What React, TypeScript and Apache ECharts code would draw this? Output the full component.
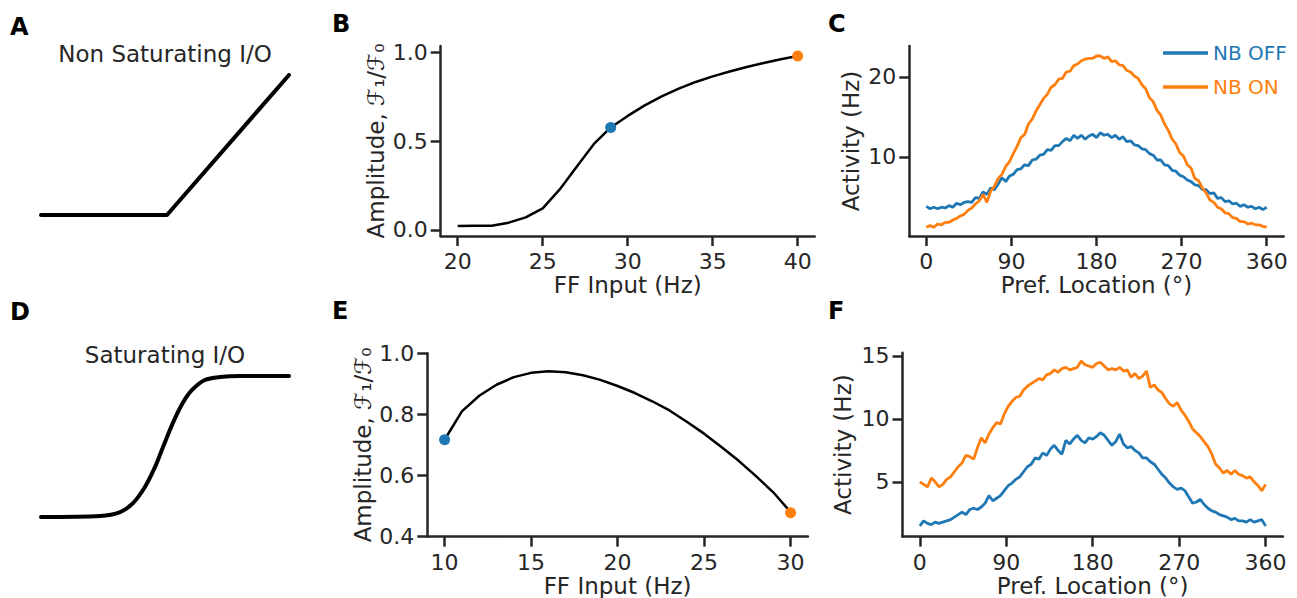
import React, { useEffect, useRef } from "react";
import * as echarts from "echarts";

const BLUE = "#1f77b4";
const ORANGE = "#ff7f0e";
const INK = "#262626";
const FONT = "DejaVu Sans";

// Panel A: non-saturating (threshold-linear) I/O schematic
const ioLinearX = [0, 5.08, 10];
const ioLinearY = [0, 0, 1];

// Panel D: saturating I/O schematic
const ioSatX = [0, 2.38, 3.19, 3.71, 4.19, 4.6, 4.92, 5.28, 5.69, 6.09, 6.61, 7.22, 8.02, 10];
const ioSatY = [0, 0.007, 0.035, 0.099, 0.213, 0.355, 0.496, 0.652, 0.801, 0.901, 0.972, 0.993, 1.0, 1.0];

// Panel B: amplitude vs FF input (non saturating)
const ffInputB = [20, 21, 22, 23, 24, 25, 26, 27, 28, 29, 30, 31, 32, 33, 34, 35, 36, 37, 38, 39, 40];
const amplitudeB = [0.022, 0.023, 0.024, 0.041, 0.071, 0.121, 0.228, 0.355, 0.482, 0.576, 0.641, 0.7, 0.751, 0.794, 0.832, 0.863, 0.891, 0.916, 0.938, 0.959, 0.978];
const markOffB = [29, 0.576];
const markOnB = [40, 0.978];

// Panel E: amplitude vs FF input (saturating)
const ffInputE = [10, 11, 12, 13, 14, 15, 16, 17, 18, 19, 20, 21, 22, 23, 24, 25, 26, 27, 28, 29, 30];
const amplitudeE = [0.717, 0.81, 0.861, 0.897, 0.922, 0.936, 0.941, 0.938, 0.928, 0.913, 0.893, 0.87, 0.843, 0.813, 0.776, 0.737, 0.693, 0.648, 0.598, 0.545, 0.48];
const markOffE = [10, 0.717];
const markOnE = [30, 0.478];

// Preferred location (deg) for panels C and F
const prefLocation = [
  0, 4, 8, 12, 16, 20, 24, 28, 32, 36, 40, 44, 48, 52, 56, 60, 64, 68, 72, 76, 80, 84, 88, 92, 96, 100,
  104, 108, 112, 116, 120, 124, 128, 132, 136, 140, 144, 148, 152, 156, 160, 164, 168, 172, 176, 180,
  184, 188, 192, 196, 200, 204, 208, 212, 216, 220, 224, 228, 232, 236, 240, 244, 248, 252, 256, 260,
  264, 268, 272, 276, 280, 284, 288, 292, 296, 300, 304, 308, 312, 316, 320, 324, 328, 332, 336, 340,
  344, 348, 352, 356, 360,
];

// Panel C activity (Hz)
const activityOffC = [
  3.8, 3.5, 3.7, 3.5, 3.7, 3.6, 3.9, 3.7, 4.2, 4.0, 4.3, 4.4, 4.3, 4.9, 4.8, 5.6, 5.3, 6.1, 5.9, 6.6,
  7.4, 6.9, 7.6, 7.8, 8.4, 8.5, 9.0, 8.9, 9.6, 9.7, 10.2, 10.3, 10.9, 10.8, 11.4, 11.4, 11.9, 12.3, 12.0,
  12.7, 12.3, 12.7, 12.2, 12.6, 12.8, 12.4, 13.0, 12.7, 12.8, 12.4, 12.7, 12.2, 12.5, 11.9, 12.0, 11.5,
  11.4, 11.0, 10.9, 10.4, 10.2, 9.6, 9.6, 9.0, 8.9, 8.3, 8.2, 7.7, 7.5, 7.1, 6.9, 6.5, 6.4, 5.9, 5.9,
  5.4, 5.5, 4.8, 4.9, 4.4, 4.5, 4.1, 4.2, 3.8, 4.0, 3.7, 3.8, 3.5, 3.7, 3.4, 3.7,
];
const activityOnC = [
  1.2, 1.4, 1.2, 1.6, 1.5, 1.8, 1.8, 2.1, 2.3, 2.6, 2.8, 3.3, 3.6, 4.1, 4.5, 5.3, 4.3, 5.7, 6.3, 7.3,
  7.8, 8.8, 9.4, 10.4, 11.3, 12.4, 12.8, 14.1, 14.7, 15.7, 16.5, 17.3, 17.8, 18.7, 19.0, 19.7, 19.8,
  20.6, 20.7, 21.4, 21.6, 22.0, 22.2, 22.3, 22.3, 22.6, 22.6, 22.3, 22.5, 21.9, 22.0, 21.5, 21.4, 20.8,
  20.6, 20.1, 19.8, 19.0, 18.5, 17.4, 16.9, 15.8, 15.2, 14.1, 13.3, 12.2, 11.6, 10.5, 10.1, 9.0, 8.6,
  7.3, 7.0, 6.1, 5.5, 4.6, 4.3, 3.7, 3.5, 3.0, 2.9, 2.4, 2.3, 1.9, 1.9, 1.6, 1.7, 1.5, 1.5, 1.3, 1.2,
];

// Panel F activity (Hz)
const activityOffF = [
  1.5, 1.9, 1.7, 1.6, 1.8, 1.7, 1.8, 1.9, 2.0, 2.2, 2.4, 2.6, 2.4, 2.8, 2.9, 2.8, 3.0, 3.3, 3.9, 3.5,
  3.7, 3.9, 4.3, 4.7, 4.9, 5.2, 5.4, 5.8, 6.2, 6.4, 6.9, 6.8, 7.3, 7.1, 7.6, 7.9, 7.5, 7.2, 8.3, 8.0,
  8.4, 8.7, 8.3, 8.1, 8.5, 8.4, 8.6, 8.9, 8.7, 8.3, 7.9, 8.2, 8.8, 8.0, 7.7, 7.8, 7.5, 7.3, 6.9, 6.9,
  6.6, 6.4, 6.0, 5.6, 5.3, 4.9, 4.6, 4.4, 4.5, 4.3, 3.8, 3.3, 3.4, 3.6, 3.2, 2.9, 2.7, 2.6, 2.4, 2.3,
  2.2, 2.0, 2.1, 1.9, 1.9, 1.8, 2.0, 1.8, 1.9, 2.0, 1.5,
];
const activityOnF = [
  5.0, 4.8, 4.6, 5.3, 5.0, 4.6, 4.8, 5.2, 5.4, 5.8, 6.2, 6.5, 7.1, 7.0, 6.8, 7.7, 8.5, 8.1, 8.8, 9.3,
  9.7, 9.6, 10.4, 11.0, 11.4, 11.7, 11.8, 12.3, 12.6, 12.8, 13.0, 13.2, 13.1, 13.5, 13.6, 13.9, 13.7,
  14.0, 14.1, 13.9, 14.0, 14.1, 14.6, 14.3, 14.2, 14.1, 14.4, 14.5, 14.2, 13.9, 14.0, 13.9, 14.1, 13.8,
  13.9, 13.3, 13.6, 13.2, 13.4, 13.8, 12.5, 12.7, 12.3, 12.1, 11.6, 11.2, 11.0, 11.3, 10.7, 10.3, 9.8,
  9.2, 8.9, 8.6, 8.2, 7.8, 7.2, 6.4, 6.1, 5.7, 5.9, 5.6, 5.9, 5.6, 5.5, 5.3, 5.4, 5.0, 4.7, 4.3, 4.8,
];

// Tick labels
const ticksAmpB = [0, 0.5, 1.0];
const ticksFFB = [20, 25, 30, 35, 40];
const ticksAmpE = [0.4, 0.6, 0.8, 1.0];
const ticksFFE = [10, 15, 20, 25, 30];
const ticksLoc = [0, 90, 180, 270, 360];
const ticksActC = [10, 20];
const ticksActF = [5, 10, 15];

const pair = (xs: number[], ys: number[]) => xs.map((x, i) => [x, ys[i]]);

function visibleAxis(
  gridIndex: number,
  min: number,
  max: number,
  ticks: number[],
  name: string,
  isY: boolean,
  nameGap: number,
  decimals: number
) {
  return {
    type: "value",
    gridIndex,
    min,
    max,
    name,
    nameLocation: "middle",
    nameGap,
    nameRotate: isY ? 90 : 0,
    nameTextStyle: { color: INK, fontSize: 23, fontFamily: FONT },
    axisLine: { show: true, onZero: false, lineStyle: { color: INK, width: 2.5 } },
    axisTick: { show: true, length: 10, customValues: ticks, lineStyle: { color: INK, width: 2.5 } },
    axisLabel: {
      show: true,
      customValues: ticks,
      color: INK,
      fontSize: 22,
      fontFamily: FONT,
      margin: isY ? 13 : 14.5,
      formatter: (v: number) => v.toFixed(decimals),
    },
    splitLine: { show: false },
  };
}

function hiddenAxis(gridIndex: number, min: number, max: number) {
  return { type: "value", gridIndex, min, max, show: false, splitLine: { show: false } };
}

export default function App() {
  const ref = useRef<HTMLDivElement>(null);

  useEffect(() => {
    document.body.style.margin = "0";
    if (!ref.current) return;
    const chart = echarts.init(ref.current, undefined, { renderer: "svg" });

    const lineBase = { type: "line", symbol: "none", silent: true };
    const dot = (name: string, color: string, xi: number, point: number[]) => ({
      type: "scatter",
      name,
      xAxisIndex: xi,
      yAxisIndex: xi,
      symbolSize: 11,
      itemStyle: { color, opacity: 1 },
      data: [point],
      z: 5,
      silent: true,
    });

    const option = {
      animation: false,
      backgroundColor: "#ffffff",
      textStyle: { fontFamily: FONT },
      grid: [
        { left: 41, top: 75, width: 248, height: 140 }, // A
        { left: 440.7, top: 46, width: 374, height: 190 }, // B
        { left: 909.3, top: 46, width: 374.4, height: 190 }, // C
        { left: 41, top: 376, width: 248, height: 141 }, // D
        { left: 427.3, top: 353.3, width: 380.6, height: 184 }, // E
        { left: 902.5, top: 352.7, width: 380.4, height: 184.6 }, // F
      ],
      xAxis: [
        hiddenAxis(0, 0, 10),
        visibleAxis(1, 19, 41, ticksFFB, "FF Input (Hz)", false, 37.5, 0),
        visibleAxis(2, -18, 378, ticksLoc, "Pref. Location (°)", false, 37.5, 0),
        hiddenAxis(3, 0, 10),
        visibleAxis(4, 9, 31, ticksFFE, "FF Input (Hz)", false, 37, 0),
        visibleAxis(5, -18, 378, ticksLoc, "Pref. Location (°)", false, 37, 0),
      ],
      yAxis: [
        hiddenAxis(0, 0, 1),
        visibleAxis(1, -0.034, 1.034, ticksAmpB, "Amplitude, ℱ₁/ℱ₀", true, 53, 1),
        visibleAxis(2, 0.1, 23.85, ticksActC, "Activity (Hz)", true, 47, 0),
        hiddenAxis(3, 0, 1),
        visibleAxis(4, 0.4, 1.0, ticksAmpE, "Amplitude, ℱ₁/ℱ₀", true, 53, 1),
        visibleAxis(5, 0.65, 15.26, ticksActF, "Activity (Hz)", true, 48, 0),
      ],
      legend: {
        left: 1163,
        top: 43,
        padding: 0,
        orient: "vertical",
        icon: "rect",
        itemWidth: 45,
        itemHeight: 3.5,
        itemGap: 14,
        textStyle: { fontFamily: FONT, fontSize: 20 },
        data: [
          { name: "NB OFF", textStyle: { color: BLUE, fontSize: 20, fontFamily: FONT } },
          { name: "NB ON", textStyle: { color: ORANGE, fontSize: 20, fontFamily: FONT } },
        ],
      },
      series: [
        {
          ...lineBase,
          name: "Non Saturating I/O",
          xAxisIndex: 0,
          yAxisIndex: 0,
          data: pair(ioLinearX, ioLinearY),
          lineStyle: { color: "#000", width: 4, cap: "round", join: "round" },
        },
        {
          ...lineBase,
          name: "Saturating I/O",
          xAxisIndex: 3,
          yAxisIndex: 3,
          smooth: 0.3,
          data: pair(ioSatX, ioSatY),
          lineStyle: { color: "#000", width: 4, cap: "round", join: "round" },
        },
        {
          ...lineBase,
          name: "Amplitude B",
          xAxisIndex: 1,
          yAxisIndex: 1,
          data: pair(ffInputB, amplitudeB),
          lineStyle: { color: "#000", width: 2.5 },
        },
        dot("B off", BLUE, 1, markOffB),
        dot("B on", ORANGE, 1, markOnB),
        {
          ...lineBase,
          name: "NB OFF",
          color: BLUE,
          xAxisIndex: 2,
          yAxisIndex: 2,
          data: pair(prefLocation, activityOffC),
          lineStyle: { color: BLUE, width: 2.8 },
        },
        {
          ...lineBase,
          name: "NB ON",
          color: ORANGE,
          xAxisIndex: 2,
          yAxisIndex: 2,
          data: pair(prefLocation, activityOnC),
          lineStyle: { color: ORANGE, width: 2.8 },
        },
        {
          ...lineBase,
          name: "Amplitude E",
          xAxisIndex: 4,
          yAxisIndex: 4,
          data: pair(ffInputE, amplitudeE),
          lineStyle: { color: "#000", width: 2.5 },
        },
        dot("E off", BLUE, 4, markOffE),
        dot("E on", ORANGE, 4, markOnE),
        {
          ...lineBase,
          name: "NB OFF",
          color: BLUE,
          xAxisIndex: 5,
          yAxisIndex: 5,
          data: pair(prefLocation, activityOffF),
          lineStyle: { color: BLUE, width: 2.8 },
        },
        {
          ...lineBase,
          name: "NB ON",
          color: ORANGE,
          xAxisIndex: 5,
          yAxisIndex: 5,
          data: pair(prefLocation, activityOnF),
          lineStyle: { color: ORANGE, width: 2.8 },
        },
      ],
      graphic: [
        { type: "text", x: 10, y: 26.5, style: { text: "A", fontSize: 24, fontWeight: "bold", fontFamily: FONT, fill: "#000", align: "left", verticalAlign: "middle" } },
        { type: "text", x: 332, y: 24, style: { text: "B", fontSize: 24, fontWeight: "bold", fontFamily: FONT, fill: "#000", align: "left", verticalAlign: "middle" } },
        { type: "text", x: 828, y: 23.5, style: { text: "C", fontSize: 24, fontWeight: "bold", fontFamily: FONT, fill: "#000", align: "left", verticalAlign: "middle" } },
        { type: "text", x: 10, y: 311.5, style: { text: "D", fontSize: 24, fontWeight: "bold", fontFamily: FONT, fill: "#000", align: "left", verticalAlign: "middle" } },
        { type: "text", x: 332, y: 311, style: { text: "E", fontSize: 24, fontWeight: "bold", fontFamily: FONT, fill: "#000", align: "left", verticalAlign: "middle" } },
        { type: "text", x: 828, y: 311, style: { text: "F", fontSize: 24, fontWeight: "bold", fontFamily: FONT, fill: "#000", align: "left", verticalAlign: "middle" } },
        { type: "text", x: 165, y: 53.5, style: { text: "Non Saturating I/O", fontSize: 23, fontFamily: FONT, fill: INK, align: "center", verticalAlign: "middle" } },
        { type: "text", x: 165, y: 355, style: { text: "Saturating I/O", fontSize: 23, fontFamily: FONT, fill: INK, align: "center", verticalAlign: "middle" } },
      ],
    };

    chart.setOption(option as any);
    return () => chart.dispose();
  }, []);

  return <div ref={ref} style={{ width: 1297, height: 598 }} />;
}
